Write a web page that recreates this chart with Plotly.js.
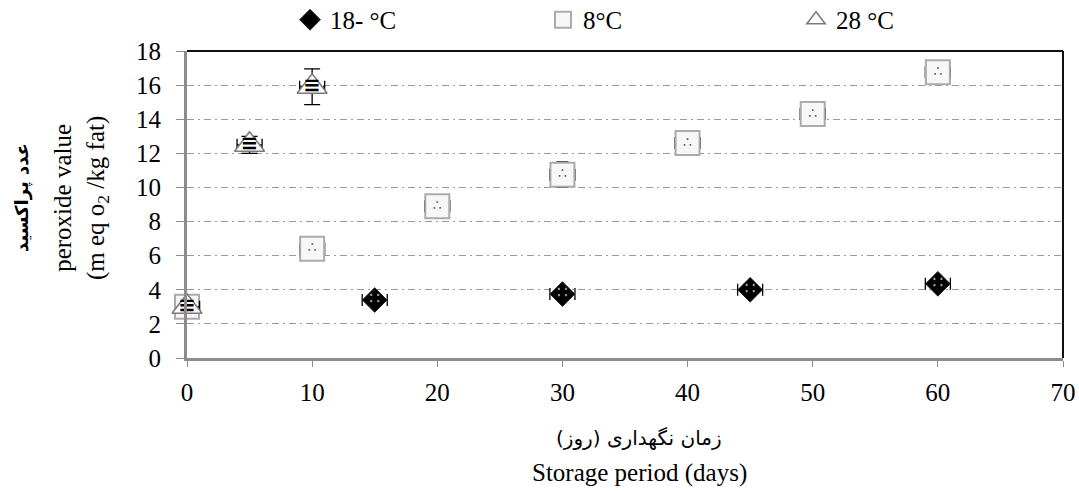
<!DOCTYPE html>
<html>
<head>
<meta charset="utf-8">
<script src="https://cdn.plot.ly/plotly-3.0.1.min.js"></script>
<style>html,body{margin:0;padding:0;background:#fff;}#chart{width:1079px;height:491px;}</style>
</head>
<body>
<div id="chart"></div>
<script>
// ---- data ----
const seriesNames = ["18- °C", "8°C", "28 °C"];
const daysM18 = [15, 30, 45, 60];
const pvM18 = [3.4, 3.75, 4.0, 4.35];
const errM18 = [0, 0, 0, 0];
const days8 = [0, 10, 20, 30, 40, 50, 60];
const pv8 = [3.0, 6.4, 8.9, 10.75, 12.6, 14.3, 16.75];
const err8 = [0, 0, 0, 0.75, 0, 0, 0];
const days28 = [0, 5, 10];
const pv28 = [3.0, 12.5, 15.9];
const err28 = [0.2, 0.5, 1.05];
const xErrDays = 1;
const xTicks = [0, 10, 20, 30, 40, 50, 60, 70];
const yTicks = [0, 2, 4, 6, 8, 10, 12, 14, 16, 18];

const serif = "'Liberation Serif', 'Times New Roman', serif";
const arabic = "'DejaVu Sans', sans-serif";
const errStyleX = {type: "constant", value: xErrDays, color: "#000", thickness: 1.3, width: 6};

function errY(arr, w) {
  return {type: "data", array: arr, visible: true, color: "#000", thickness: 1.3, width: w};
}
// square texture dots are hidden where a triangle sits on the same point
const squareDotX = [], squareDotY = [];
days8.forEach((d, i) => {
  const j = days28.indexOf(d);
  if (j < 0 || Math.abs(pv28[j] - pv8[i]) > 0.5) { squareDotX.push(d); squareDotY.push(pv8[i]); }
});

const traces = [
  {
    x: daysM18, y: pvM18, name: seriesNames[0], type: "scatter", mode: "markers", cliponaxis: false,
    marker: {symbol: "diamond", size: 19, color: "#000", line: {color: "#222", width: 1}},
    error_x: errStyleX, error_y: errY(errM18, 6)
  },
  {
    x: daysM18, y: pvM18, type: "scatter", mode: "text", text: daysM18.map(() => "∷"),
    textfont: {color: "#a8a8a8", size: 17, family: arabic}, showlegend: false, hoverinfo: "skip", cliponaxis: false
  },
  {
    x: days8, y: pv8, name: seriesNames[1], type: "scatter", mode: "markers", cliponaxis: false,
    marker: {symbol: "square", size: 24, color: "#f7f7f7", line: {color: "#ababab", width: 2}},
    error_x: errStyleX, error_y: errY(err8, 6)
  },
  {
    x: squareDotX, y: squareDotY, type: "scatter", mode: "text", text: squareDotX.map(() => "∴"),
    textfont: {color: "#555", size: 14, family: arabic}, showlegend: false, hoverinfo: "skip", cliponaxis: false
  },
  {
    x: days28, y: pv28, name: seriesNames[2], type: "scatter", mode: "markers", cliponaxis: false,
    marker: {symbol: "triangle-up", size: 26, color: "#fff", line: {color: "#7a7a7a", width: 1.5}},
    error_x: errStyleX, error_y: errY(err28, 8)
  },
  {
    x: days28, y: pv28, type: "scatter", mode: "text", text: days28.map(() => "<b>≡</b>"),
    textfont: {color: "#000", size: 21, family: arabic}, showlegend: false, hoverinfo: "skip", cliponaxis: false
  }
];

const layout = {
  width: 1079, height: 491,
  margin: {l: 187, r: 16, t: 51, b: 133, autoexpand: false},
  paper_bgcolor: "#fff", plot_bgcolor: "#fff",
  font: {family: serif, size: 25, color: "#000"},
  showlegend: true,
  legend: {
    orientation: "h", x: 0.1176, xanchor: "left", y: 1.101, yanchor: "middle",
    font: {family: serif, size: 25, color: "#000"},
    entrywidth: 208, entrywidthmode: "pixels", bgcolor: "rgba(0,0,0,0)", traceorder: "normal"
  },
  xaxis: {
    range: [0, 70], tickvals: xTicks, ticktext: xTicks.map(String),
    showline: true, linecolor: "#8c8c8c", linewidth: 3,
    ticks: "outside", ticklen: 6, tickcolor: "#8c8c8c", tickwidth: 1,
    showgrid: false, zeroline: false, ticklabelstandoff: 4,
    tickfont: {family: serif, size: 25, color: "#000"}
  },
  yaxis: {
    range: [0, 18], tickvals: yTicks, ticktext: yTicks.map(String),
    showline: true, linecolor: "#8c8c8c", linewidth: 3,
    ticks: "outside", ticklen: 8, tickcolor: "#8c8c8c", tickwidth: 1,
    showgrid: true, gridcolor: "#9a9a9a", gridwidth: 1, griddash: "7px,4px,2px,4px",
    zeroline: false, ticklabelstandoff: 10,
    tickfont: {family: serif, size: 25, color: "#000"}
  },
  shapes: [
    {type: "line", xref: "paper", yref: "paper", x0: 0, x1: 1, y0: 1, y1: 1, line: {color: "#111", width: 2}},
    {type: "line", xref: "paper", yref: "paper", x0: 1, x1: 1, y0: 0, y1: 1, line: {color: "#111", width: 2}}
  ],
  annotations: [
    {xref: "paper", yref: "paper", x: 0.516, y: -0.26, xanchor: "center", yanchor: "middle", showarrow: false,
     text: "زمان نگهداری (روز)", font: {family: arabic, size: 20, color: "#000"}},
    {xref: "paper", yref: "paper", x: 0.516, y: -0.375, xanchor: "center", yanchor: "middle", showarrow: false,
     text: "Storage period (days)", font: {family: serif, size: 25, color: "#000"}},
    {xref: "paper", yref: "paper", x: (22 - 187) / 876, y: (358 - 198) / 307, xanchor: "center", yanchor: "middle",
     showarrow: false, textangle: -90, text: "<b>عدد پراکسید</b>", font: {family: arabic, size: 18, color: "#000"}},
    {xref: "paper", yref: "paper", x: (81 - 187) / 876, y: (358 - 198) / 307, xanchor: "center", yanchor: "middle",
     showarrow: false, textangle: -90, text: "peroxide value<br>(m eq o<sub>2</sub> /kg fat)",
     font: {family: serif, size: 25, color: "#000"}}
  ]
};

Plotly.newPlot("chart", traces, layout, {staticPlot: true, displayModeBar: false});
</script>
</body>
</html>
